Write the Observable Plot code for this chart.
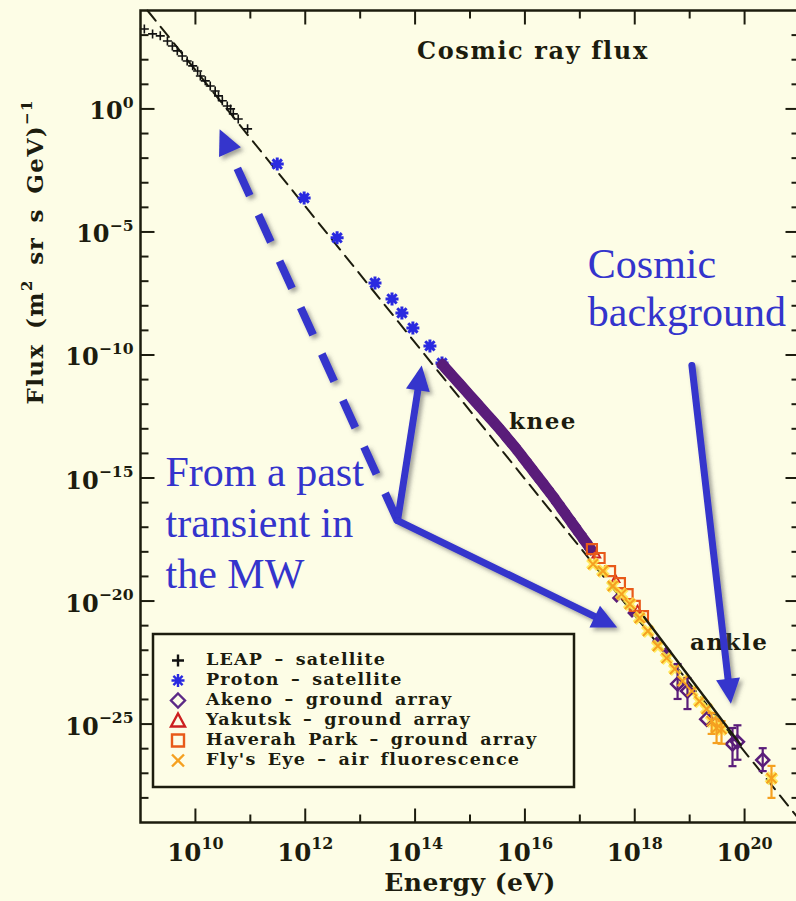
<!DOCTYPE html>
<html><head><meta charset="utf-8">
<script src="https://cdn.jsdelivr.net/npm/d3@7"></script>
<script src="https://cdn.jsdelivr.net/npm/@observablehq/plot@0.6"></script>
<style>
html,body{margin:0;padding:0;background:#fdfde6;overflow:hidden;width:796px;height:901px}
#wrap{position:relative;width:796px;height:901px;overflow:hidden}
#wrap svg{max-width:none !important;display:block}
</style></head><body><div id="wrap"></div>
<script>
// ---------- data (log10 values) ----------
const xMajorExp = [10, 12, 14, 16, 18, 20];
const xMinorExp = [11, 13, 15, 17, 19];
const yMajorExp = [0, -5, -10, -15, -20, -25];
const yMinorExp = [3, 2, 1, -1, -2, -3, -4, -6, -7, -8, -9, -11, -12, -13, -14, -16, -17, -18, -19, -21, -22, -23, -24, -26, -27, -28];

const leapLogE = [9.07, 9.22, 9.36, 9.49, 9.58, 9.67, 9.76, 9.85, 9.95, 10.04, 10.09, 10.18, 10.27, 10.36, 10.42, 10.49, 10.58, 10.64, 10.69, 10.78, 10.95];
const leapLogF = [3.25, 3.05, 2.97, 2.76, 2.56, 2.36, 2.15, 1.95, 1.75, 1.54, 1.34, 1.14, 0.93, 0.73, 0.53, 0.33, 0.12, 0.00, -0.20, -0.41, -0.81];

const protonLogE = [11.49, 11.98, 12.58, 13.27, 13.58, 13.76, 13.96, 14.27, 14.49];
const protonLogF = [-2.24, -3.62, -5.24, -7.07, -7.72, -8.29, -8.90, -9.63, -10.33];

const akenoBandLogE = [14.5, 14.6, 14.7, 14.8, 14.9, 15.0, 15.1, 15.2, 15.3, 15.4, 15.5, 15.6, 15.7, 15.8, 15.9, 16.0, 16.1, 16.2, 16.3, 16.4, 16.5, 16.6, 16.7, 16.8, 16.9, 17.0, 17.1, 17.2];
const akenoBandLogF = [-10.40, -10.65, -10.90, -11.15, -11.40, -11.65, -11.90, -12.15, -12.40, -12.65, -12.90, -13.16, -13.43, -13.70, -13.98, -14.27, -14.56, -14.85, -15.14, -15.43, -15.72, -16.03, -16.34, -16.65, -16.96, -17.27, -17.58, -17.89];

const akenoLogE = [17.67, 17.95, 18.40, 18.58, 18.78, 18.96, 19.31, 19.78, 19.87, 20.33];
const akenoLogF = [-19.88, -20.49, -21.63, -22.03, -23.37, -23.66, -24.80, -25.81, -25.72, -26.46];
const akenoErrLo = [null, null, null, null, -23.98, -24.39, null, -26.71, -26.45, -26.91];
const akenoErrHi = [null, null, null, null, -22.56, -23.13, null, -25.16, -25.05, -25.98];

const yakutskLogE = [17.30, 17.65, 18.05];
const yakutskLogF = [-18.10, -19.10, -20.35];

const haverahLogE = [17.22, 17.36, 17.55, 17.73, 17.87, 18.00, 18.15];
const haverahLogF = [-17.89, -18.25, -18.78, -19.27, -19.72, -20.20, -20.61];

const flysLogE = [17.24, 17.42, 17.60, 17.76, 17.91, 18.09, 18.24, 18.42, 18.58, 18.73, 18.87, 19.04, 19.18, 19.31, 19.40, 19.49, 19.58, 20.49];
const flysLogF = [-18.50, -18.78, -19.39, -19.72, -20.12, -20.69, -21.22, -21.83, -22.32, -22.76, -23.25, -23.66, -24.07, -24.39, -24.88, -25.16, -25.20, -27.20];
const flysErrLo = [null, null, null, null, null, null, null, null, null, null, null, null, null, null, -25.40, -25.77, -25.80, -28.00];
const flysErrHi = [null, null, null, null, null, null, null, null, null, null, null, null, null, null, -24.55, -24.80, -24.88, -26.70];

const refLogE = [9.127, 21.0];
const refLogF = [4.0, -28.89];
const fitLogE = [18.17, 19.93];
const fitLogF = [-20.65, -25.85];

const labelText = ["knee", "ankle"];
const labelLogE = [16.33, 19.72];
const labelLogF = [-13.0, -21.99];
const titleText = "Cosmic ray flux";
const titleLogE = 16.145, titleLogF = 2.03;

const arrowFromLogE = [13.69, 13.69, 13.69, 19.05];
const arrowFromLogF = [-16.75, -16.75, -16.75, -10.45];
const arrowToLogE = [10.45, 14.13, 17.69, 19.76];
const arrowToLogF = [-0.85, -10.45, -21.10, -24.19];
const arrowDashed = [true, false, false, false];

const legendLabels = ["LEAP – satellite", "Proton – satellite", "Akeno – ground array", "Yakutsk – ground array", "Haverah Park – ground array", "Fly's Eye – air fluorescence"];

// ---------- styles ----------
const ink = "#1c1c0e", bg = "#fdfde6";
const cBlue = "#2a2ae0", cPurple = "#5a1d7a", cRed = "#cc2020", cOrange = "#e85a1a", cFly = "#f5a020", cGlow = "#ffe84a", cAnn = "#3434cc";

const pts = (E, F) => E.map((e, i) => ({x: 10 ** e, y: 10 ** F[i]}));
const errs = (E, F, lo, hi) => E.map((e, i) => ({x: 10 ** e, y: 10 ** F[i], lo: lo[i] == null ? null : 10 ** lo[i], hi: hi[i] == null ? null : 10 ** hi[i]})).filter(d => d.lo != null);

const leap = pts(leapLogE, leapLogF);
const proton = pts(protonLogE, protonLogF);
const akenoBand = pts(akenoBandLogE, akenoBandLogF);
const akeno = pts(akenoLogE, akenoLogF);
const akenoErr = errs(akenoLogE, akenoLogF, akenoErrLo, akenoErrHi);
const yakutsk = pts(yakutskLogE, yakutskLogF);
const haverah = pts(haverahLogE, haverahLogF);
const flys = pts(flysLogE, flysLogF);
const flysErr = errs(flysLogE, flysLogF, flysErrLo, flysErrHi);
const ref = pts(refLogE, refLogF);
const fit = pts(fitLogE, fitLogF);

// custom symbols
const sym = f => ({draw: f});
const tickSym = (dx, dy) => sym(c => { c.moveTo(0, 0); c.lineTo(dx, dy); });
const ast8 = a => sym(c => { const b = a * 0.72; c.moveTo(-a, 0); c.lineTo(a, 0); c.moveTo(0, -a); c.lineTo(0, a); c.moveTo(-b, -b); c.lineTo(b, b); c.moveTo(-b, b); c.lineTo(b, -b); });
const diamondSym = r => sym(c => { c.moveTo(0, -r); c.lineTo(r, 0); c.lineTo(0, r); c.lineTo(-r, 0); c.closePath(); });
const triSym = r => sym(c => { c.moveTo(0, -r); c.lineTo(r, r * 0.8); c.lineTo(-r, r * 0.8); c.closePath(); });
const squareSym = r => sym(c => { c.rect(-r, -r, 2 * r, 2 * r); });
const timesSym = r => sym(c => { c.moveTo(-r, -r); c.lineTo(r, r); c.moveTo(-r, r); c.lineTo(r, -r); });
const plusSym = r => sym(c => { c.moveTo(-r, 0); c.lineTo(r, 0); c.moveTo(0, -r); c.lineTo(0, r); });
const capSym = r => sym(c => { c.moveTo(-r, 0); c.lineTo(r, 0); });

const X0 = 1e9, X1 = 1e21, Y0 = 1e-29, Y1 = 1e4;
const tickOpts = {stroke: ink, strokeWidth: 2, fill: "none"};
const fx = d => 10 ** d;
const supLabel = d => `10^{${d < 0 ? "−" + (-d) : d}}`;

const plot = Plot.plot({
  width: 800, height: 901,
  marginLeft: 140, marginRight: 1, marginTop: 10, marginBottom: 79,
  style: "max-width:none;background:transparent;overflow:hidden;",
  x: {type: "log", domain: [X0, X1], axis: null},
  y: {type: "log", domain: [Y0, Y1], axis: null},
  marks: [
    Plot.line(ref, {x: "x", y: "y", stroke: ink, strokeWidth: 2, strokeDasharray: "13,8"}),
    Plot.dot(leap, {x: "x", y: "y", symbol: plusSym(4.5), stroke: "#111", strokeWidth: 1.6, fill: "none"}),
    Plot.dot(proton, {x: "x", y: "y", symbol: ast8(6.5), stroke: cBlue, strokeWidth: 3, fill: "none"}),
    Plot.line(akenoBand, {x: "x", y: "y", stroke: cPurple, strokeWidth: 11, strokeLinecap: "round"}),
    Plot.dot(akenoBand, {x: "x", y: "y", symbol: diamondSym(5.5), stroke: cPurple, strokeWidth: 2, fill: "none"}),
    Plot.dot(yakutsk, {x: "x", y: "y", symbol: triSym(4), stroke: cRed, strokeWidth: 1.8, fill: "none"}),
    Plot.dot(akeno.slice(0, 4), {x: "x", y: "y", symbol: diamondSym(3.5), stroke: cPurple, strokeWidth: 2, fill: cPurple}),
    Plot.dot(haverah, {x: "x", y: "y", symbol: squareSym(5), stroke: cOrange, strokeWidth: 2.2, fill: "none"}),
    Plot.dot(flys, {x: "x", y: "y", symbol: timesSym(5), stroke: cGlow, strokeWidth: 5.5, strokeOpacity: 0.85, fill: "none"}),
    Plot.ruleX(akenoErr, {x: "x", y1: "lo", y2: "hi", stroke: cPurple, strokeWidth: 2.2}),
    Plot.dot(akenoErr, {x: "x", y: "lo", symbol: capSym(4), stroke: cPurple, strokeWidth: 2.2, fill: "none"}),
    Plot.dot(akenoErr, {x: "x", y: "hi", symbol: capSym(4), stroke: cPurple, strokeWidth: 2.2, fill: "none"}),
    Plot.dot(akeno.slice(4), {x: "x", y: "y", symbol: diamondSym(6.5), stroke: cPurple, strokeWidth: 2.5, fill: "none"}),
    Plot.ruleX(flysErr, {x: "x", y1: "lo", y2: "hi", stroke: cFly, strokeWidth: 2.2}),
    Plot.dot(flysErr, {x: "x", y: "lo", symbol: capSym(4), stroke: cFly, strokeWidth: 2.2, fill: "none"}),
    Plot.dot(flysErr, {x: "x", y: "hi", symbol: capSym(4), stroke: cFly, strokeWidth: 2.2, fill: "none"}),
    Plot.dot(flys, {x: "x", y: "y", symbol: timesSym(5), stroke: cFly, strokeWidth: 2, fill: "none"}),
    Plot.line(fit, {x: "x", y: "y", stroke: ink, strokeWidth: 2.4}),
    Plot.frame({stroke: ink, strokeWidth: 2.5}),
    // ticks (inward)
    Plot.dot(xMajorExp, {x: fx, y: () => Y0, symbol: tickSym(0, -14), ...tickOpts}),
    Plot.dot(xMinorExp, {x: fx, y: () => Y0, symbol: tickSym(0, -8), ...tickOpts}),
    Plot.dot(xMajorExp, {x: fx, y: () => Y1, symbol: tickSym(0, 14), ...tickOpts}),
    Plot.dot(xMinorExp, {x: fx, y: () => Y1, symbol: tickSym(0, 8), ...tickOpts}),
    Plot.dot(yMajorExp, {x: () => X0, y: fx, symbol: tickSym(14, 0), ...tickOpts}),
    Plot.dot(yMinorExp, {x: () => X0, y: fx, symbol: tickSym(8, 0), ...tickOpts}),
    Plot.dot(yMajorExp, {x: () => X1, y: fx, symbol: tickSym(-14, 0), ...tickOpts}),
    Plot.dot(yMinorExp, {x: () => X1, y: fx, symbol: tickSym(-8, 0), ...tickOpts}),
    // tick labels
    Plot.text(xMajorExp, {x: fx, y: () => Y0, text: supLabel, dy: 38, lineAnchor: "bottom", textAnchor: "middle", fontFamily: "DejaVu Serif", fontWeight: "bold", fontSize: 24.5, fill: ink}),
    Plot.text(yMajorExp, {x: () => X0, y: fx, text: supLabel, dx: -7, dy: 10.5, lineAnchor: "bottom", textAnchor: "end", fontFamily: "DejaVu Serif", fontWeight: "bold", fontSize: 24, fill: ink}),
    // axis titles
    Plot.text(["Energy (eV)"], {frameAnchor: "bottom", text: d => d, dy: 68, lineAnchor: "bottom", fontFamily: "DejaVu Serif", fontWeight: "bold", fontSize: 25, fill: ink}),
    Plot.text(["Flux (m^{2} sr s GeV)^{−1}"], {frameAnchor: "left", text: d => d, rotate: -90, dx: -98, dy: -12, lineAnchor: "bottom", fontFamily: "DejaVu Serif", fontWeight: "bold", fontSize: 23, fill: ink}),
    // annotations
    Plot.text([titleText], {x: () => 10 ** titleLogE, y: () => 10 ** titleLogF, text: d => d, lineAnchor: "bottom", fontFamily: "DejaVu Serif", fontWeight: "bold", fontSize: 24, fill: ink}),
    Plot.text(labelText, {x: (d, i) => 10 ** labelLogE[i], y: (d, i) => 10 ** labelLogF[i], text: d => d, lineAnchor: "bottom", fontFamily: "DejaVu Serif", fontWeight: "bold", fontSize: 23, fill: ink}),
    Plot.text(["From a past\ntransient in\nthe MW"], {x: () => 10 ** 9.455, y: () => 10 ** -19.47, text: d => d, textAnchor: "start", lineAnchor: "bottom", lineHeight: 1.21, fontFamily: "Liberation Serif", fontSize: 42, fill: cAnn}),
    Plot.text(["Cosmic\nbackground"], {x: () => 10 ** 17.145, y: () => 10 ** -8.82, text: d => d, textAnchor: "start", lineAnchor: "bottom", lineHeight: 1.143, fontFamily: "Liberation Serif", fontSize: 42, fill: cAnn})
  ]
});

document.getElementById("wrap").appendChild(plot);

// letter spacing for the wide bold lettering
const spacing = {"Cosmic ray flux": [1.6, 0], "knee": [1.5, 0], "ankle": [1.5, 0], "Energy (eV)": [0.5, 0], "Flux (m^{2} sr s GeV)^{−1}": [1.4, 5]};
plot.querySelectorAll("text").forEach(t => {
  const s = spacing[t.textContent];
  if (s) { t.style.letterSpacing = s[0] + "px"; t.style.wordSpacing = s[1] + "px"; }
});

// superscripts: "^{...}"
const NS = "http://www.w3.org/2000/svg";
plot.querySelectorAll("text").forEach(t => {
  if (t.querySelector("tspan")) return;
  const s = t.textContent;
  if (!s.includes("^{")) return;
  const fs = parseFloat(getComputedStyle(t).fontSize) || 16;
  const parts = s.split(/\^\{([^}]*)\}/);
  t.textContent = "";
  let raised = false;
  parts.forEach((p, i) => {
    if (!p) return;
    const ts = document.createElementNS(NS, "tspan");
    ts.textContent = p;
    if (i % 2 === 1) { ts.setAttribute("font-size", (fs * 0.65).toFixed(1)); ts.setAttribute("dy", (-fs * 0.48).toFixed(1)); raised = true; }
    else if (raised) { ts.setAttribute("dy", (fs * 0.48).toFixed(1)); raised = false; }
    t.appendChild(ts);
  });
});

// annotation arrows, placed through the plot's scales
const sx = plot.scale("x"), sy = plot.scale("y");
const px = v => sx.apply ? sx.apply(v) : d3.scaleLog(sx.domain, sx.range)(v);
const py = v => sy.apply ? sy.apply(v) : d3.scaleLog(sy.domain, sy.range)(v);
const svg = d3.select(plot);
const defs = svg.append("defs");
defs.append("filter").attr("id", "arrowShadow").attr("x", "-20%").attr("y", "-20%").attr("width", "140%").attr("height", "140%")
  .append("feDropShadow").attr("dx", 3).attr("dy", 3).attr("stdDeviation", 2).attr("flood-color", "#555").attr("flood-opacity", 0.55);
const ga = svg.append("g").attr("filter", "url(#arrowShadow)");
arrowFromLogE.forEach((e, i) => {
  const x1 = px(10 ** e), y1 = py(10 ** arrowFromLogF[i]);
  const x2 = px(10 ** arrowToLogE[i]), y2 = py(10 ** arrowToLogF[i]);
  const dx = x2 - x1, dy = y2 - y1, len = Math.hypot(dx, dy), ux = dx / len, uy = dy / len;
  const L = 25, W = 24;
  const bx = x2 - ux * L, by = y2 - uy * L;
  ga.append("line").attr("x1", x1).attr("y1", y1).attr("x2", bx + ux * 3).attr("y2", by + uy * 3)
    .attr("stroke", cAnn).attr("stroke-width", arrowDashed[i] ? 8 : 7)
    .attr("stroke-linecap", arrowDashed[i] ? "butt" : "round")
    .attr("stroke-dasharray", arrowDashed[i] ? "30,21" : null);
  ga.append("path").attr("d", `M${x2},${y2}L${bx - uy * W / 2},${by + ux * W / 2}L${bx + uy * W / 2},${by - ux * W / 2}Z`).attr("fill", cAnn);
});

// legend box inside the plot frame
const legendPaths = [
  "M-6,0H6M0,-6V6",
  "M-6.5,0H6.5M0,-6.5V6.5M-4.6,-4.6L4.6,4.6M-4.6,4.6L4.6,-4.6",
  "M0,-7L7,0L0,7L-7,0Z",
  "M0,-7L7,6H-7Z",
  "M-6,-6H6V6H-6Z",
  "M-6,-6L6,6M-6,6L6,-6"
];
const legendColors = ["#111", cBlue, "#5c2a86", cRed, cOrange, cFly];
const lg = d3.select("#wrap").append("svg").attr("width", 796).attr("height", 901)
  .style("position", "absolute").style("left", 0).style("top", 0).style("pointer-events", "none");
lg.append("rect").attr("x", 153).attr("y", 634).attr("width", 421).attr("height", 153)
  .attr("fill", bg).attr("stroke", ink).attr("stroke-width", 2.5);
legendLabels.forEach((lab, i) => {
  const by = 665 + 20 * i;
  lg.append("path").attr("transform", `translate(178,${by - 4.5})`).attr("d", legendPaths[i])
    .attr("fill", "none").attr("stroke", legendColors[i]).attr("stroke-width", 2.4);
  lg.append("text").attr("x", 206).attr("y", by).text(lab)
    .attr("font-family", "DejaVu Serif").attr("font-weight", "bold").attr("font-size", 17.5).attr("fill", ink)
    .style("letter-spacing", "1.2px").style("word-spacing", "4px");
});
</script></body></html>
